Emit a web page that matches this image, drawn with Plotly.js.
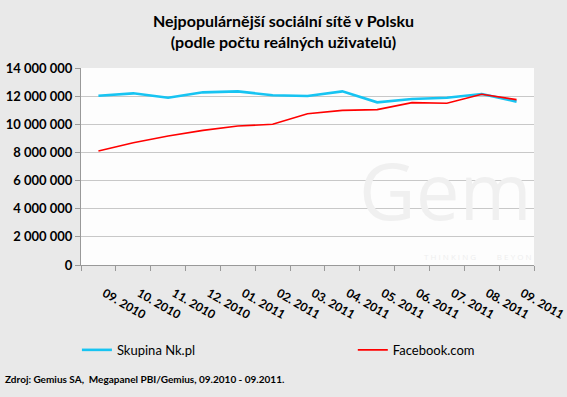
<!DOCTYPE html>
<html><head><meta charset="utf-8">
<script src="https://cdn.plot.ly/plotly-3.0.1.min.js"></script>
<style>html,body{margin:0;padding:0;background:#e9e9e9}</style>
</head><body>
<div id="chart" style="width:567px;height:397px"></div>
<script>
const months = ['09. 2010','10. 2010','11. 2010','12. 2010','01. 2011','02. 2011','03. 2011','04. 2011','05. 2011','06. 2011','07. 2011','08. 2011','09. 2011'];
const nkValues = [12030000,12200000,11890000,12270000,12340000,12060000,12010000,12340000,11560000,11800000,11890000,12150000,11610000];
const fbValues = [8100000,8690000,9170000,9570000,9880000,10000000,10750000,10990000,11040000,11540000,11490000,12130000,11750000];
const yTicks = [0,2000000,4000000,6000000,8000000,10000000,12000000,14000000];

const F = 'Lato, "Open Sans", sans-serif';
const traces = [
  {x: months, y: nkValues, name: 'Skupina Nk.pl', type: 'scatter', mode: 'lines',
   line: {color: '#17c4f2', width: 2.6}, legend: 'legend'},
  {x: months, y: fbValues, name: 'Facebook.com', type: 'scatter', mode: 'lines',
   line: {color: '#ff0000', width: 1.6}, legend: 'legend2'}
];
const legBase = {orientation: 'h', xanchor: 'left', y: -0.431, yanchor: 'middle',
                 bgcolor: 'rgba(0,0,0,0)', itemwidth: 30,
                 font: {family: F, size: 13, color: '#000'}};
const layout = {
  width: 567, height: 397,
  paper_bgcolor: '#e9e9e9', plot_bgcolor: '#fdfdfd',
  margin: {l: 81, r: 33, t: 68, b: 132},
  separators: ', ',
  title: {text: '<b>Nejpopulárnější sociální sítě v Polsku<br>(podle počtu reálných uživatelů)</b>',
          font: {family: F, size: 16, color: '#000'}, x: 0.5, xanchor: 'center',
          yref: 'container', y: 0.932, yanchor: 'middle'},
  showlegend: true,
  legend: Object.assign({}, legBase, {x: -0.009}),
  legend2: Object.assign({}, legBase, {x: 0.600}),
  xaxis: {type: 'category', tickangle: 30, tickson: 'boundaries', ticks: 'outside', ticklen: 5,
          tickcolor: '#999', showline: true, linecolor: '#999', linewidth: 1, showgrid: false,
          ticklabelstandoff: 16, ticklabelshift: 6,
          tickfont: {family: F, size: 12, color: '#000', weight: 'bold'},
          range: [-0.5, 12.5], fixedrange: true},
  yaxis: {range: [0, 14000000], tickvals: yTicks, tickformat: ',d', ticks: 'outside', ticklen: 5,
          tickcolor: '#999', showline: true, linecolor: '#999', linewidth: 1,
          showgrid: true, gridcolor: '#c8c8c8', gridwidth: 1, zeroline: false,
          tickfont: {family: F, size: 13, color: '#000', weight: 'bold'}},
  annotations: [
    {text: 'Gem', xref: 'paper', yref: 'paper', x: 1.0, y: 0.38, xanchor: 'right', yanchor: 'middle',
     showarrow: false, font: {family: '"Open Sans", sans-serif', size: 78, color: '#f0f0f0'}},
    {text: 'T H I N K I N G          B E Y O N', xref: 'paper', yref: 'paper', x: 1.0, y: 0.045, xanchor: 'right', yanchor: 'middle',
     showarrow: false, font: {family: '"Open Sans", sans-serif', size: 8, color: '#eeeeee'}},
    {text: '<b>Zdroj: Gemius SA,  Megapanel PBI/Gemius, 09.2010 - 09.2011.</b>', xref: 'paper', yref: 'paper',
     x: -0.172, y: -0.579, xanchor: 'left', yanchor: 'middle', showarrow: false,
     font: {family: F, size: 10, color: '#000'}}
  ]
};
Plotly.newPlot('chart', traces, layout, {displayModeBar: false, staticPlot: true});
</script>
</body></html>
